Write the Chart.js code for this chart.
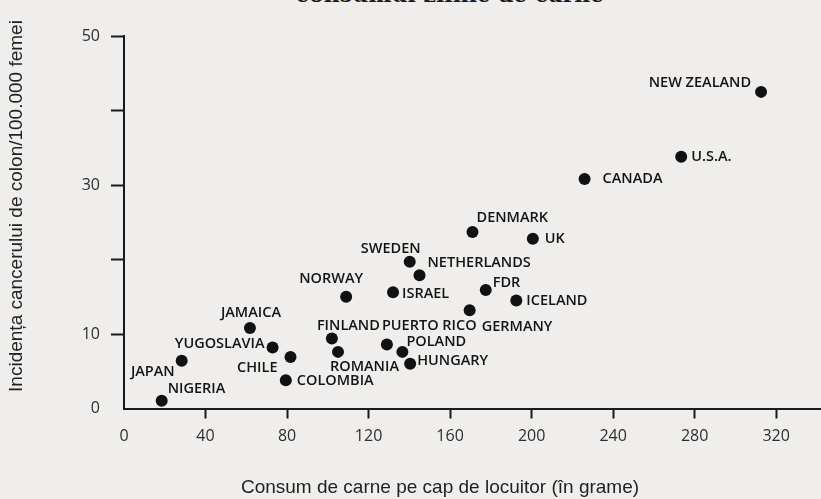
<!DOCTYPE html>
<html lang="ro">
<head>
<meta charset="utf-8">
<title>Cancer de colon si consum de carne</title>
<script src="https://cdn.jsdelivr.net/npm/chart.js@4.4.1/dist/chart.umd.min.js"></script>
<style>
  html, body { margin: 0; padding: 0; background: #efeeec; }
  #wrap { position: relative; width: 821px; height: 499px; overflow: hidden; }
  #topTitle {
    position: absolute; left: 0; width: 900px; top: -19px; text-align: center;
    font: bold 22px "DejaVu Serif", "Liberation Serif", serif; color: #1b1b1b;
    white-space: nowrap;
  }
  canvas { position: absolute; left: 0; top: 0; }
</style>
</head>
<body>
<div id="wrap">
  <div id="topTitle">consumul zilnic de carne</div>
  <canvas id="meatChart" width="821" height="499"></canvas>
</div>
<script>
const countries = ["NIGERIA", "JAPAN", "JAMAICA", "YUGOSLAVIA", "CHILE", "COLOMBIA",
  "FINLAND", "ROMANIA", "PUERTO RICO", "POLAND", "HUNGARY", "NORWAY", "ISRAEL",
  "SWEDEN", "NETHERLANDS", "GERMANY", "FDR", "ICELAND", "DENMARK", "UK",
  "CANADA", "U.S.A.", "NEW ZEALAND"];
const meatGrams = [18.5, 28.3, 61.8, 72.9, 81.7, 79.4,
  102, 105, 129, 136.6, 140.4, 109, 132,
  140.2, 145, 169.6, 177.5, 192.5, 171, 200.6,
  226, 273.4, 312.6];
const colonCancer = [1.05, 6.4, 10.8, 8.2, 6.9, 3.8,
  9.4, 7.6, 8.6, 7.6, 6.0, 15.0, 15.6,
  19.7, 17.9, 13.2, 15.9, 14.5, 23.7, 22.8,
  30.8, 33.8, 42.5];
const xTicks = [0, 40, 80, 120, 160, 200, 240, 280, 320];
const yTicks = [0, 10, 20, 30, 40, 50];
const yTickLabels = [0, 10, 30, 50];

const xTitle = "Consum de carne pe cap de locuitor (în grame)";
const yTitle = "Incidența cancerului de colon/100.000 femei";

// where each country name sits relative to its dot: [align, dx, dy]
const labelPlace = [
  ["left", 6, -12], ["right", -7, 11], ["center", 1, -15], ["right", -8, -4],
  ["right", -13, 11], ["left", 11, 1], ["left", -15, -13], ["left", -8, 15],
  ["left", -5, -19], ["left", 4, -10], ["left", 7, -3], ["center", -15, -18],
  ["left", 9, 2], ["center", -19, -13], ["left", 8, -12], ["left", 12, 17],
  ["left", 7, -7], ["left", 10, 0], ["left", 4, -14], ["left", 12, 0],
  ["left", 18, 0], ["left", 10, 0], ["right", -10, -9]
];

const points = meatGrams.map((x, i) => ({ x: x, y: colonCancer[i] }));

const countryLabels = {
  id: 'countryLabels',
  afterDatasetsDraw(chart) {
    const ctx = chart.ctx;
    const meta = chart.getDatasetMeta(0);
    ctx.save();
    ctx.font = '600 14.5px "Open Sans", sans-serif';
    ctx.fillStyle = '#141414';
    ctx.textBaseline = 'middle';
    meta.data.forEach((pt, i) => {
      const p = labelPlace[i];
      ctx.textAlign = p[0];
      ctx.fillText(countries[i], pt.x + p[1], pt.y + p[2]);
    });
    ctx.restore();
  }
};

const axisTitles = {
  id: 'axisTitles',
  afterDraw(chart) {
    const ctx = chart.ctx;
    ctx.save();
    ctx.font = '19px "Liberation Sans", Arial, sans-serif';
    ctx.fillStyle = '#222';
    ctx.textAlign = 'center';
    ctx.textBaseline = 'middle';
    ctx.fillText(xTitle, 440, 488);
    ctx.translate(17, 206);
    ctx.rotate(-Math.PI / 2);
    ctx.fillText(yTitle, 0, 0);
    ctx.restore();
  }
};

const tickColor = ctx => (ctx.tick && ctx.tick.value === 0) ? 'rgba(0,0,0,0)' : '#1a1a1a';

new Chart(document.getElementById('meatChart'), {
  type: 'scatter',
  data: {
    datasets: [{
      data: points,
      backgroundColor: '#111',
      borderColor: '#111',
      borderWidth: 0,
      pointRadius: 6,
      pointHoverRadius: 6
    }]
  },
  options: {
    responsive: false,
    animation: false,
    layout: { autoPadding: false, padding: { top: 36, right: 0, bottom: 0, left: 0 } },
    plugins: { legend: { display: false }, tooltip: { enabled: false } },
    scales: {
      x: {
        type: 'linear',
        min: 0,
        max: 342,
        afterBuildTicks: scale => { scale.ticks = xTicks.map(v => ({ value: v })); },
        afterFit: scale => { scale.height = 90.5; },
        border: { display: true, color: '#1a1a1a', width: 2 },
        grid: { drawOnChartArea: false, drawTicks: true, tickLength: 10, tickWidth: 2, tickColor: tickColor },
        ticks: {
          autoSkip: false, maxRotation: 0, padding: 8,
          color: '#2e2e2e', font: { family: '"Open Sans", sans-serif', size: 16 }
        }
      },
      y: {
        type: 'linear',
        min: 0,
        max: 50,
        afterBuildTicks: scale => { scale.ticks = yTicks.map(v => ({ value: v })); },
        afterFit: scale => { scale.width = 124; },
        border: { display: true, color: '#1a1a1a', width: 2 },
        grid: { drawOnChartArea: false, drawTicks: true, tickLength: 13, tickWidth: 2, tickColor: tickColor },
        ticks: {
          padding: 11,
          color: '#2e2e2e', font: { family: '"Open Sans", sans-serif', size: 16 },
          callback: value => yTickLabels.includes(value) ? String(value) : ''
        }
      }
    }
  },
  plugins: [countryLabels, axisTitles]
});
</script>
</body>
</html>
